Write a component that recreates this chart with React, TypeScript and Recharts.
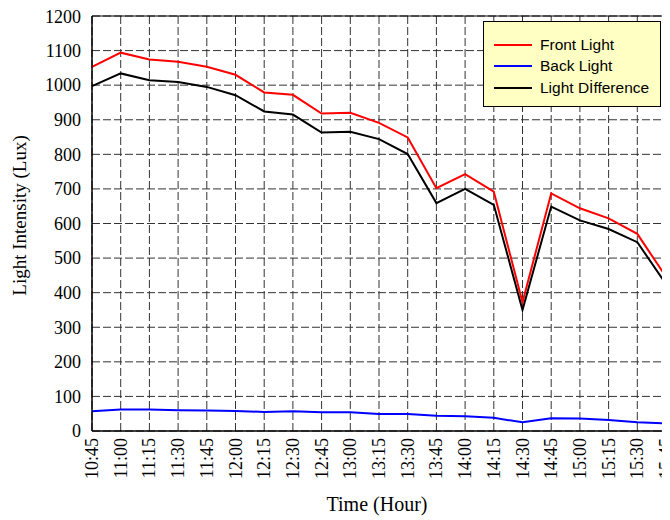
import React from 'react';
import { LineChart, Line, XAxis, YAxis, CartesianGrid, ReferenceArea } from 'recharts';

const times = ['10:45','11:00','11:15','11:30','11:45','12:00','12:15','12:30','12:45','13:00','13:15','13:30','13:45','14:00','14:15','14:30','14:45','15:00','15:15','15:30','15:45'];
const frontLight = [1053,1094,1074,1068,1053,1030,979,972,918,920,891,849,702,743,692,372,687,644,615,570,446];
const backLight = [57,62,62,60,59,58,55,57,54,54,49,49,44,43,38,25,37,36,32,25,22];
const lightDifference = [997,1034,1014,1009,995,971,924,915,863,865,844,801,659,700,654,350,649,609,584,546,425];
const yTicks = [0,100,200,300,400,500,600,700,800,900,1000,1100,1200];

const seriesDefs = [
  { key: 'front', name: 'Front Light', color: '#FF0000' },
  { key: 'back', name: 'Back Light', color: '#0000FF' },
  { key: 'diff', name: 'Light D\u0130fference', color: '#000000' },
];

const data = times.map((t, i) => ({
  time: t,
  front: frontLight[i],
  back: backLight[i],
  diff: lightDifference[i],
}));

const SERIF = '"Liberation Serif", "Times New Roman", serif';
const SANS = '"Liberation Sans", Arial, sans-serif';

const XTick = (props: any) => {
  const { x, y, payload } = props;
  return (
    <text
      x={x}
      y={y}
      transform={`rotate(-90, ${x}, ${y})`}
      textAnchor="end"
      dominantBaseline="central"
      fontFamily={SERIF}
      fontSize={18}
      fill="#000"
    >
      {payload.value}
    </text>
  );
};

const YTick = (props: any) => {
  const { x, y, payload } = props;
  return (
    <text x={x} y={y} dy="0.35em" textAnchor="end" fontFamily={SERIF} fontSize={18} fill="#000">
      {payload.value}
    </text>
  );
};

const YTitle = (props: any) => {
  const vb = props.viewBox || { y: 8, height: 415 };
  const cx = 11;
  const cy = vb.y + vb.height / 2 - 8;
  return (
    <text
      x={cx}
      y={cy}
      transform={`rotate(-90, ${cx}, ${cy})`}
      textAnchor="middle"
      dominantBaseline="central"
      fontFamily={SERIF}
      fontSize={19}
      fill="#000"
    >
      Light Intensity (Lux)
    </text>
  );
};

const XTitle = (props: any) => {
  const vb = props.viewBox || { x: 84, width: 574, y: 423 };
  const cx = vb.x + vb.width / 2 - 2;
  return (
    <text x={cx} y={503} textAnchor="middle" fontFamily={SERIF} fontSize={20} fill="#000">
      Time (Hour)
    </text>
  );
};

export default function App() {
  return (
    <div style={{ position: 'relative', width: 670, height: 512 }}>
      <LineChart
        width={670}
        height={512}
        data={data}
        margin={{ top: 8, right: 12, bottom: 0, left: 24 }}
      >
        <CartesianGrid stroke="#333" strokeDasharray="8 3" strokeWidth={1} />
        <XAxis
          dataKey="time"
          interval={0}
          height={89}
          tickSize={0}
          tickMargin={7}
          tickLine={false}
          axisLine={{ stroke: '#000' }}
          tick={<XTick />}
          label={{ content: (p: any) => <XTitle {...p} /> }}
        />
        <YAxis
          domain={[0, 1200]}
          ticks={yTicks}
          width={60}
          tickSize={0}
          tickMargin={11}
          tickLine={false}
          axisLine={{ stroke: '#000' }}
          tick={<YTick />}
          allowDataOverflow
          label={{ content: (p: any) => <YTitle {...p} /> }}
        />
        <ReferenceArea y1={0} y2={1200} fill="none" stroke="#000" strokeWidth={1} ifOverflow="visible" />
        {seriesDefs.map((s) => (
          <Line
            key={s.key}
            type="linear"
            dataKey={s.key}
            name={s.name}
            stroke={s.color}
            strokeWidth={2}
            dot={false}
            activeDot={false}
            isAnimationActive={false}
          />
        ))}
      </LineChart>
      <div
        style={{
          position: 'absolute',
          left: 475,
          top: 13,
          width: 178,
          height: 86,
          boxSizing: 'border-box',
          border: '1px solid #000',
          background: '#FFFFC4',
          paddingTop: 12,
          fontFamily: SANS,
          fontSize: 15.5,
          color: '#000',
        }}
      >
        {seriesDefs.map((s) => (
          <div key={s.key} style={{ height: 21.5, display: 'flex', alignItems: 'center' }}>
            <div style={{ marginLeft: 10, width: 38, height: 2, background: s.color }} />
            <span style={{ marginLeft: 8, whiteSpace: 'nowrap' }}>{s.name}</span>
          </div>
        ))}
      </div>
    </div>
  );
}
